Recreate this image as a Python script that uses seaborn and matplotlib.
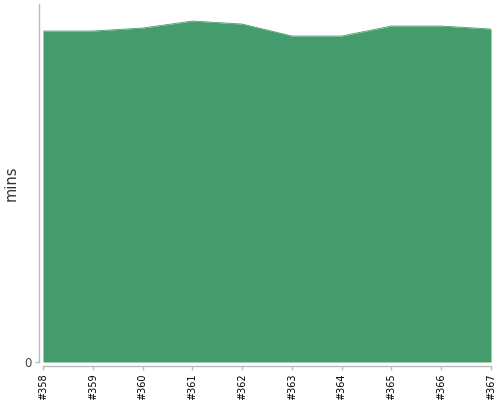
import numpy as np
import pandas as pd
import matplotlib
matplotlib.use("Agg")
import matplotlib.pyplot as plt
import seaborn as sns

# Build numbers and durations (mins)
builds = ["#358", "#359", "#360", "#361", "#362", "#363", "#364", "#365", "#366", "#367"]
build_ids = [358, 359, 360, 361, 362, 363, 364, 365, 366, 367]
durations = [33.1, 33.1, 33.4, 34.1, 33.8, 32.6, 32.6, 33.6, 33.6, 33.3]

df = pd.DataFrame({"build": build_ids, "mins": durations})

sns.set_theme(style="ticks")
plt.rcParams['font.family'] = ['DejaVu Sans']

fig = plt.figure(figsize=(5, 4), dpi=100)
ax = fig.add_axes([0.086, 0.095, 0.896, 0.895])

color = "#449c6c"
ax.fill_between(df["build"], 0, df["mins"], color=color, linewidth=0)
sns.lineplot(data=df, x="build", y="mins", ax=ax, color=color, linewidth=0.6)

# despine first: moving spines resets the tick labels
sns.despine(ax=ax, offset=3)
for side in ["left", "bottom"]:
    ax.spines[side].set_color("#bbbbbb")
    ax.spines[side].set_linewidth(1)

ax.set_xlim(build_ids[0], build_ids[-1])
ax.set_ylim(0, max(durations) * 1.05)
ax.set_xticks(build_ids)
ax.set_xticklabels(builds, rotation=90, fontsize=7, color="black")
ax.set_yticks([0])
ax.set_yticklabels(["0"], fontsize=8.5, color="#444444")
ax.set_xlabel("")
ax.set_ylabel("mins", fontsize=10.5, color="#333333", labelpad=4)
ax.tick_params(axis="both", length=3, width=1, color="#bbbbbb", pad=2)

fig.savefig("out.png")
